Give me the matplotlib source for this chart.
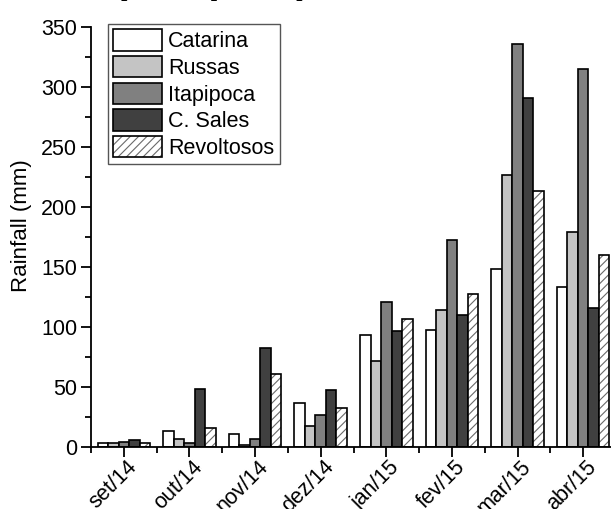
import matplotlib
matplotlib.use('Agg')
import matplotlib.pyplot as plt
import numpy as np
from matplotlib.patches import Patch
from matplotlib.legend_handler import HandlerTuple
from matplotlib.ticker import MultipleLocator, FixedLocator, NullFormatter
import matplotlib.transforms as mtransforms

months = ['set/14', 'out/14', 'nov/14', 'dez/14', 'jan/15', 'fev/15', 'mar/15', 'abr/15']
catarina = [3.6, 13.5, 10.5, 37.0, 93.4, 97.6, 148.7, 133.7]
russas = [3.0, 6.6, 2.0, 17.7, 71.6, 114.2, 227.0, 179.4]
itapipoca = [3.9, 3.0, 6.6, 26.8, 121.0, 172.7, 335.6, 315.0]
csales = [6.0, 48.7, 82.3, 47.3, 97.0, 109.7, 290.5, 115.5]
revoltosos = [3.0, 16.0, 61.0, 32.6, 106.4, 127.7, 213.4, 160.3]
series_names = ['Catarina', 'Russas', 'Itapipoca', 'C. Sales', 'Revoltosos']

plt.rcParams['font.family'] = ['Liberation Sans', 'DejaVu Sans']
plt.rcParams['hatch.linewidth'] = 0.8

W, H = 611, 509
fig = plt.figure(figsize=(W / 100, H / 100), dpi=100)
ax = fig.add_axes([91 / W, 62 / H, (616 - 91) / W, 420 / H])

x = np.arange(len(months))
bw = 0.16
fills = ['white', '#c4c4c4', '#808080', '#404040']
data = [catarina, russas, itapipoca, csales]
handles = []
for i, (vals, fc) in enumerate(zip(data, fills)):
    ax.bar(x + (i - 2) * bw, vals, bw, color=fc, edgecolor='black', linewidth=1.2, zorder=2)
    handles.append(Patch(facecolor=fc, edgecolor='black', linewidth=1.2))
# hatched series
ax.bar(x + 2 * bw, revoltosos, bw, color='white', edgecolor='#6a6a6a', hatch='////', linewidth=0, zorder=2)
ax.bar(x + 2 * bw, revoltosos, bw, fill=False, edgecolor='black', linewidth=1.2, zorder=3)
h_hatch = Patch(facecolor='white', edgecolor='#6a6a6a', hatch='////', linewidth=0)
h_edge = Patch(fill=False, edgecolor='black', linewidth=1.2)
handles.append((h_hatch, h_edge))

ax.set_xlim(-0.5, 7.5)
ax.set_ylim(0, 350)
for s in ['top', 'right']:
    ax.spines[s].set_visible(False)
for s in ['left', 'bottom']:
    ax.spines[s].set_linewidth(1.3)

ax.yaxis.set_major_locator(MultipleLocator(50))
ax.yaxis.set_minor_locator(MultipleLocator(25))
ax.set_xticks(x)
ax.xaxis.set_major_formatter(NullFormatter())
ax.xaxis.set_minor_locator(FixedLocator(np.arange(-0.5, 8, 1.0)))
ax.tick_params(axis='both', which='major', direction='out', length=7, width=1.3, labelsize=15.5)
ax.tick_params(axis='both', which='minor', direction='out', length=4, width=1.3)
ax.tick_params(axis='y', which='major', pad=3)

# month labels, rotated, anchored just below each tick
lab_tr = ax.get_xaxis_transform() + mtransforms.ScaledTranslation(10 / 100, -17 / 100, fig.dpi_scale_trans)
for xi, m in zip(x, months):
    ax.text(xi, 0, m, transform=lab_tr, rotation=45, ha='right', va='center',
            rotation_mode='anchor', fontsize=15.5, clip_on=False)

fig.text(22 / W, 1 - 226 / H, 'Rainfall (mm)', rotation=90, ha='center', va='center', fontsize=16)

leg = fig.legend(handles, series_names, loc='upper left',
                 bbox_to_anchor=(108 / W, 1 - 24 / H), fontsize=15.5,
                 handlelength=2.25, handleheight=1.15, labelspacing=0.17,
                 handletextpad=0.3, borderpad=0.25, borderaxespad=0,
                 fancybox=False, edgecolor='#555555', framealpha=1,
                 handler_map={tuple: HandlerTuple(ndivide=1, pad=0)})
leg.get_frame().set_linewidth(1.0)

# partially cropped caption at the very top
fig.text(45 / W, 1 + 4 / H, 'rainfall period Sep/14 to Apr/15 in the', ha='left', va='baseline',
         fontsize=16, family=['Liberation Serif', 'DejaVu Serif'], fontweight='bold')

fig.savefig('out.png', dpi=100)
